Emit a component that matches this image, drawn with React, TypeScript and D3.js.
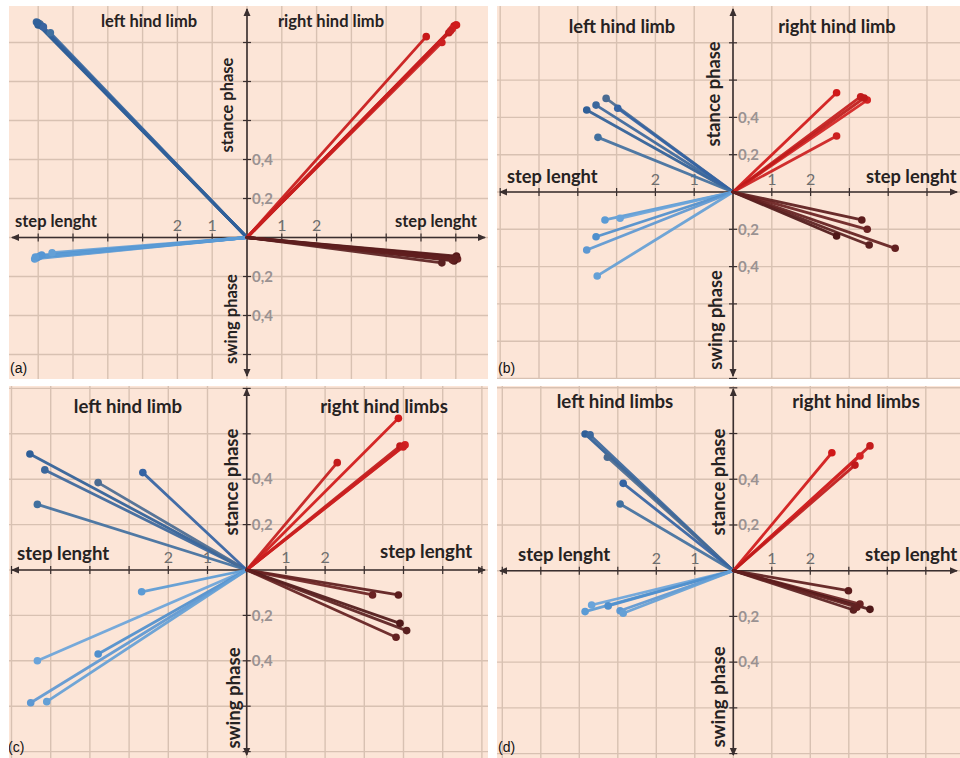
import React, { useEffect, useRef } from 'react'
import * as d3 from 'd3'

type Pt = [number, number]

// endpoints of every step vector: [step length, phase duration]
// panel (a)
const aLeftStance: Pt[] = [[-6.0, 1.1], [-6.05, 1.105], [-5.95, 1.095], [-5.9, 1.085], [-5.65, 1.05], [-6.0, 1.09], [-5.85, 1.08], [-6.02, 1.1]]
const aLeftSwing: Pt[] = [[-6.1, -0.11], [-6.05, -0.105], [-6.0, -0.1], [-5.95, -0.095], [-5.6, -0.078], [-5.9, -0.09], [-6.08, -0.1]]
const aRightStance: Pt[] = [[6.0, 1.09], [5.95, 1.085], [5.9, 1.07], [5.8, 1.05], [5.6, 1.0], [5.15, 1.03], [6.02, 1.09], [5.85, 1.06]]
const aRightSwing: Pt[] = [[6.0, -0.1], [6.05, -0.11], [5.95, -0.12], [5.6, -0.13], [5.9, -0.115], [6.02, -0.095], [5.98, -0.105]]

// panel (b)
const bLeftStance: Pt[] = [[-3.77, 0.44], [-3.53, 0.466], [-3.27, 0.502], [-2.97, 0.449], [-3.48, 0.293]]
const bLeftSwing: Pt[] = [[-3.3, -0.15], [-2.91, -0.141], [-3.53, -0.24], [-3.77, -0.311], [-3.5, -0.45]]
const bRightStance: Pt[] = [[2.67, 0.532], [3.29, 0.511], [3.46, 0.493], [3.38, 0.504], [2.67, 0.3]]
const bRightSwing: Pt[] = [[3.32, -0.15], [3.46, -0.2], [2.67, -0.236], [3.51, -0.284], [4.18, -0.302]]

// panel (c)
const cLeftStance: Pt[] = [[-5.53, 0.511], [-5.15, 0.441], [-3.79, 0.385], [-2.65, 0.429], [-5.34, 0.289]]
const cLeftSwing: Pt[] = [[-2.68, -0.096], [-5.34, -0.4], [-3.79, -0.37], [-5.51, -0.585], [-5.1, -0.58]]
const cRightStance: Pt[] = [[3.87, 0.668], [2.31, 0.473], [4.04, 0.551], [3.91, 0.546], [3.99, 0.542]]
const cRightSwing: Pt[] = [[3.87, -0.11], [3.21, -0.11], [3.91, -0.235], [4.08, -0.267], [3.81, -0.296]]

// panel (d)
const dLeftStance: Pt[] = [[-3.85, 0.598], [-3.72, 0.594], [-3.27, 0.496], [-2.86, 0.382], [-2.94, 0.292]]
const dLeftSwing: Pt[] = [[-3.85, -0.179], [-3.68, -0.15], [-3.25, -0.154], [-2.94, -0.175], [-2.86, -0.186]]
const dRightStance: Pt[] = [[2.56, 0.516], [3.55, 0.546], [3.29, 0.502], [3.16, 0.462]]
const dRightSwing: Pt[] = [[2.99, -0.0875], [3.29, -0.146], [3.55, -0.169], [3.12, -0.172], [3.21, -0.16]]

const leftTitles = ['left hind limb', 'left hind limb', 'left hind limb', 'left hind limbs']
const rightTitles = ['right hind limb', 'right hind limb', 'right hind limbs', 'right hind limbs']
const panelTags = ['(a)', '(b)', '(c)', '(d)']
const xTickValues = [-2, -1, 1, 2]
const yTickValues = [-0.4, -0.2, 0.2, 0.4]
const stepLabel = 'step lenght'
const stanceLabel = 'stance phase'
const swingLabel = 'swing phase'

const groupColors = [
  ['#2f5f98', '#3b679c', '#4a6b92', '#3463a3', '#41709f', '#2d5b90', '#3a64a0', '#30609a'],
  ['#5b9bd5', '#6aa4da', '#4f8fcd', '#5d98d2', '#64a0d6', '#5596d4', '#5b9bd5'],
  ['#d01818', '#c41c1c', '#d42222', '#bf1a1a', '#cc2020', '#c81818', '#d01c1c', '#c62020'],
  ['#5c1c1c', '#6a2222', '#4f1818', '#5a2020', '#632020', '#571a1a', '#5e1e1e']
]

// layout: plot rect, origin pixel, pixels per unit, label anchors, label font size
const layout = [
  { rect: [9, 6, 488, 379], origin: [247, 237.5], unit: [34.8, 195], font: 16.5, titleY: 27, titleX: [149, 331], stance: [233, 105], swing: [237, 319], stepY: [227, 227], stepX: [15, 395], tag: [10, 373] },
  { rect: [497, 6, 960, 379], origin: [733, 192], unit: [38.8, 186.5], font: 18.3, titleY: 33, titleX: [622, 837], stance: [720, 94], swing: [722, 320], stepY: [183, 183], stepX: [507, 866], tag: [498, 373] },
  { rect: [9, 386, 488, 758], origin: [246.7, 570], unit: [39.2, 227], font: 18.6, titleY: 413, titleX: [128, 384], stance: [238, 482], swing: [240, 698], stepY: [560, 558], stepX: [17, 380], tag: [8, 752] },
  { rect: [497, 386, 960, 758], origin: [733.3, 570.7], unit: [38.5, 228.6], font: 18.6, titleY: 408, titleX: [615, 856], stance: [725, 482], swing: [725, 697], stepY: [561, 561], stepX: [518, 865], tag: [498, 752] }
]

const panelData = [
  [aLeftStance, aLeftSwing, aRightStance, aRightSwing],
  [bLeftStance, bLeftSwing, bRightStance, bRightSwing],
  [cLeftStance, cLeftSwing, cRightStance, cRightSwing],
  [dLeftStance, dLeftSwing, dRightStance, dRightSwing]
]

const labelFont = "Lato, 'Open Sans', sans-serif"

function drawPanel(svg: any, i: number) {
  const p = layout[i]
  const [x0, y0, x1, y1] = p.rect
  const [ox, oy] = p.origin
  const [ux, uy] = p.unit

  const x = d3.scaleLinear().domain([0, 1]).range([ox, ox + ux])
  const y = d3.scaleLinear().domain([0, 1]).range([oy, oy - uy])
  const xMin = x.invert(x0), xMax = x.invert(x1)
  const yMin = y.invert(y1), yMax = y.invert(y0)

  svg.append('clipPath').attr('id', 'clip' + i)
    .append('rect').attr('x', x0).attr('y', y0).attr('width', x1 - x0).attr('height', y1 - y0)

  const g = svg.append('g').attr('clip-path', 'url(#clip' + i + ')')

  g.append('rect')
    .attr('x', x0).attr('y', y0)
    .attr('width', x1 - x0).attr('height', y1 - y0)
    .attr('fill', '#fce5d7')

  // grid
  const gx = d3.range(Math.ceil(xMin), Math.floor(xMax) + 1)
  const gy = d3.range(Math.ceil(yMin / 0.2 - 1e-6), Math.floor(yMax / 0.2 + 1e-6) + 1).map(k => k * 0.2)

  g.selectAll('.vgrid').data(gx).enter().append('line')
    .attr('x1', d => x(d)).attr('x2', d => x(d))
    .attr('y1', y0).attr('y2', y1)
    .attr('stroke', '#d8c1b2').attr('stroke-width', 1.4)

  g.selectAll('.hgrid').data(gy).enter().append('line')
    .attr('y1', d => y(d)).attr('y2', d => y(d))
    .attr('x1', x0).attr('x2', x1)
    .attr('stroke', '#d8c1b2').attr('stroke-width', 1.4)

  // axes
  const axisColor = '#3a2f2f'
  g.append('line').attr('x1', x0 + 3).attr('x2', x1 - 3).attr('y1', y(0)).attr('y2', y(0))
    .attr('stroke', axisColor).attr('stroke-width', 1.6)
  g.append('line').attr('y1', y0 + 3).attr('y2', y1 - 3).attr('x1', x(0)).attr('x2', x(0))
    .attr('stroke', axisColor).attr('stroke-width', 1.6)

  g.selectAll('.xtick').data(gx.filter(d => d !== 0)).enter().append('line')
    .attr('x1', d => x(d)).attr('x2', d => x(d))
    .attr('y1', y(0) - 4).attr('y2', y(0) + 4)
    .attr('stroke', axisColor).attr('stroke-width', 1.2)
  g.selectAll('.ytick').data(gy.filter(d => Math.abs(d) > 1e-6)).enter().append('line')
    .attr('y1', d => y(d)).attr('y2', d => y(d))
    .attr('x1', x(0) - 4).attr('x2', x(0) + 4)
    .attr('stroke', axisColor).attr('stroke-width', 1.2)

  const arrows = [
    `M${x0 + 2},${y(0)} L${x0 + 10},${y(0) - 3.5} L${x0 + 10},${y(0) + 3.5} Z`,
    `M${x1 - 2},${y(0)} L${x1 - 10},${y(0) - 3.5} L${x1 - 10},${y(0) + 3.5} Z`,
    `M${x(0)},${y0 + 2} L${x(0) - 3.5},${y0 + 10} L${x(0) + 3.5},${y0 + 10} Z`,
    `M${x(0)},${y1 - 2} L${x(0) - 3.5},${y1 - 10} L${x(0) + 3.5},${y1 - 10} Z`
  ]
  g.selectAll('.arrow').data(arrows).enter().append('path')
    .attr('d', d => d).attr('fill', axisColor)

  // tick labels
  g.selectAll('.xlab').data(xTickValues).enter().append('text')
    .attr('x', d => x(d)).attr('y', y(0) - 7)
    .attr('text-anchor', 'middle')
    .style('font-family', labelFont).style('font-size', '16px')
    .style('fill', '#6e6e6e')
    .text(d => String(Math.abs(d)))

  g.selectAll('.ylab').data(yTickValues).enter().append('text')
    .attr('x', x(0) + 5).attr('y', d => y(d))
    .attr('dy', '0.35em')
    .style('font-family', labelFont).style('font-size', '15px').style('font-weight', 'bold')
    .style('fill', '#9a9292')
    .text(d => Math.abs(d).toFixed(1).replace('.', ','))

  // step vectors
  const line = d3.line<Pt>().x(d => x(d[0])).y(d => y(d[1]))
  panelData[i].forEach((group, gi) => {
    const colors = groupColors[gi]
    group.forEach((pt, k) => {
      g.append('path')
        .attr('d', line([[0, 0], pt]))
        .attr('stroke', colors[k % colors.length])
        .attr('stroke-width', 2.8)
        .attr('stroke-linecap', 'round')
        .attr('fill', 'none')
        .attr('opacity', 0.92)
    })
    group.forEach((pt, k) => {
      g.append('circle')
        .attr('cx', x(pt[0])).attr('cy', y(pt[1])).attr('r', 3.8)
        .attr('fill', colors[k % colors.length])
    })
  })

  // labels
  const bold = (sel: any) => sel.style('font-family', labelFont).style('font-size', p.font + 'px')
    .style('font-weight', 'bold').style('fill', '#262222')

  bold(g.append('text').attr('x', p.titleX[0]).attr('y', p.titleY).attr('text-anchor', 'middle').text(leftTitles[i]))
  bold(g.append('text').attr('x', p.titleX[1]).attr('y', p.titleY).attr('text-anchor', 'middle').text(rightTitles[i]))
  bold(g.append('text').attr('x', p.stepX[0]).attr('y', p.stepY[0]).text(stepLabel))
  bold(g.append('text').attr('x', p.stepX[1]).attr('y', p.stepY[1]).text(stepLabel))
  bold(g.append('text')
    .attr('transform', 'translate(' + p.stance[0] + ',' + p.stance[1] + ') rotate(-90)')
    .attr('text-anchor', 'middle').text(stanceLabel))
  bold(g.append('text')
    .attr('transform', 'translate(' + p.swing[0] + ',' + p.swing[1] + ') rotate(-90)')
    .attr('text-anchor', 'middle').text(swingLabel))

  g.append('text')
    .attr('x', p.tag[0]).attr('y', p.tag[1])
    .style('font-family', "'Liberation Sans', Arial, sans-serif").style('font-size', '14px')
    .style('fill', '#111')
    .text(panelTags[i])
}

export default function App() {
  const ref = useRef<SVGSVGElement>(null)

  useEffect(() => {
    const svg = d3.select(ref.current)
    svg.selectAll('*').remove()
    svg.append('rect').attr('width', 960).attr('height', 758).attr('fill', '#ffffff')
    for (let i = 0; i < layout.length; i++) {
      drawPanel(svg, i)
    }
  }, [])

  return (
    <svg
      ref={ref}
      width={960}
      height={758}
      style={{ position: 'absolute', left: 0, top: 0 }}
    />
  )
}
